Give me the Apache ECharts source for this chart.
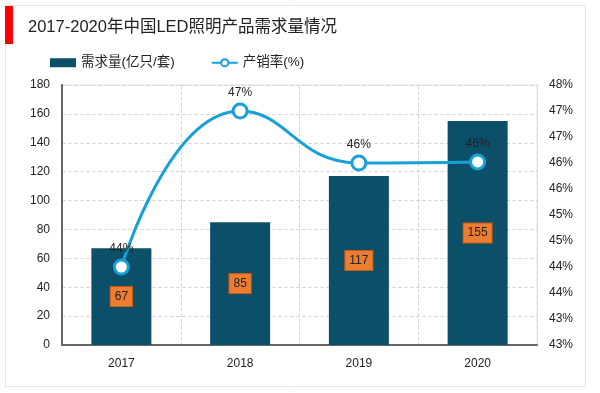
<!DOCTYPE html>
<html><head><meta charset="utf-8">
<script src="https://cdn.jsdelivr.net/npm/echarts@6/dist/echarts.min.js"></script>
<style>html,body{margin:0;padding:0;background:#fff}#c{width:600px;height:393px}</style>
</head><body><div id="c"></div>
<script>
const categories = ['2017', '2018', '2019', '2020'];
const demand = [67, 85, 117, 155];
const salesRate = [44.0, 47.0, 46.0, 46.02];
const leftTicks = {min: 0, max: 180, interval: 20};
const rightTicks = {min: 42.5, max: 47.5, interval: 0.5};
const title = '2017-2020年中国LED照明产品需求量情况';
const seriesNames = ['需求量(亿只/套)', '产销率(%)'];

const chart = echarts.init(document.getElementById('c'));
const font = 'Arial, "Liberation Sans", "Noto Sans CJK SC", sans-serif';
chart.setOption({
  animation: false,
  textStyle: {fontFamily: font},
  graphic: [
    {type: 'rect', shape: {x: 5.5, y: 5.5, width: 580, height: 381}, style: {fill: 'none', stroke: '#e6e6e6', lineWidth: 1}},
    {type: 'rect', shape: {x: 5, y: 6, width: 8, height: 38}, style: {fill: '#ff0000'}}
  ],
  title: {text: title, left: 23, top: 14, textStyle: {fontSize: 16.5, fontWeight: 'normal', color: '#222', fontFamily: font}},
  legend: {
    top: 51, left: 45, itemGap: 36, itemWidth: 26, itemHeight: 9,
    textStyle: {fontSize: 13.5, color: '#222', fontFamily: font},
    data: [{name: seriesNames[0], icon: 'rect'}, {name: seriesNames[1]}]
  },
  grid: {left: 62, right: 63, top: 85, bottom: 48, show: true, borderColor: '#e0e0e0', borderWidth: 1},
  xAxis: {
    type: 'category', data: categories,
    axisLine: {lineStyle: {color: '#666', width: 2}},
    axisTick: {show: false},
    axisLabel: {color: '#222', fontSize: 12, margin: 13},
    splitLine: {show: true, lineStyle: {type: 'dashed', color: '#d9d9d9'}}
  },
  yAxis: [
    {type: 'value', min: leftTicks.min, max: leftTicks.max, interval: leftTicks.interval,
     axisLine: {show: true, lineStyle: {color: '#666', width: 2}},
     axisTick: {show: false},
     axisLabel: {color: '#222', fontSize: 12, margin: 12},
     splitLine: {lineStyle: {type: 'dashed', color: '#d9d9d9'}}},
    {type: 'value', min: rightTicks.min, max: rightTicks.max, interval: rightTicks.interval,
     axisLine: {show: false}, axisTick: {show: false},
     axisLabel: {color: '#222', fontSize: 12, margin: 12, formatter: v => Math.round(v) + '%'},
     splitLine: {show: false}}
  ],
  series: [
    {name: seriesNames[0], type: 'bar', data: demand, barWidth: 60,
     itemStyle: {color: '#0c4f69'},
     label: {show: true, position: 'inside', color: '#222', fontSize: 12,
       backgroundColor: '#ed7d31', borderColor: '#c55a11', borderWidth: 1, padding: [4, 4, 3, 4]}},
    {name: seriesNames[1], type: 'line', yAxisIndex: 1, data: salesRate, smooth: 0.5,
     symbol: 'circle', symbolSize: 14,
     lineStyle: {color: '#19a0d8', width: 3},
     itemStyle: {color: '#fff', borderColor: '#19a0d8', borderWidth: 3},
     label: {show: true, position: 'top', distance: 4, color: '#222', fontSize: 12, formatter: p => Math.round(p.value) + '%'}}
  ]
});
</script></body></html>
